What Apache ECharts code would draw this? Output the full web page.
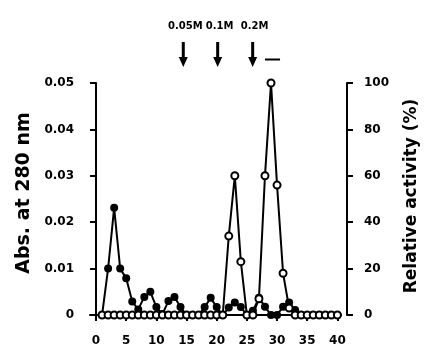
<!DOCTYPE html>
<html><head><meta charset="utf-8">
<script src="https://cdn.jsdelivr.net/npm/echarts@6/dist/echarts.min.js"></script>
<style>html,body{margin:0;padding:0;background:#fff}#c{width:439px;height:355px}</style>
</head><body><div id="c"></div>
<script>
const fractions = [1,2,3,4,5,6,7,8,9,10,11,12,13,14,15,16,17,18,19,20,21,22,23,24,25,26,27,28,29,30,31,32,33,34,35,36,37,38,39,40];
const absorbance = [0,0.0100,0.0231,0.0100,0.0079,0.0029,0.0012,0.0039,0.0050,0.0017,0.0002,0.0030,0.0039,0.0017,0,0,0,0.0017,0.0037,0.0017,0,0.0016,0.0027,0.0017,0,0.0009,0.0037,0.0018,0,0,0.0018,0.0027,0.0011,0,0,0,0,0,0,0];
const activity = [0,0,0,0,0,0,0,0,0,0,0,0,0,0,0,0,0,0,0,0,0,34,60,23,0,0,7,60,100,56,18,3,0,0,0,0,0,0,0,0];
const xTicks = [0,5,10,15,20,25,30,35,40];
const saltLabels = ['0.05M','0.1M','0.2M'];
const saltFractions = [14.46,20.16,25.96];
const barFractions = [28,30.5];

const FONT = 'DejaVu Sans';
const chart = echarts.init(document.getElementById('c'), null, {renderer:'canvas'});
const axisLine = {show:true, lineStyle:{color:'#000', width:2}};
const axisTick = {show:true, inside:false, length:6, lineStyle:{color:'#000', width:2}};
const labelStyle = {color:'#000', fontFamily:FONT, fontWeight:'bold', fontSize:12};

chart.setOption({
  animation:false,
  backgroundColor:'#fff',
  grid:{left:90, right:98, top:83, bottom:40},
  xAxis:{
    type:'value', min:-1, max:40.6,
    axisLine:axisLine,
    axisTick:Object.assign({customValues:xTicks}, axisTick),
    axisLabel:Object.assign({customValues:xTicks, margin:20}, labelStyle),
    splitLine:{show:false}
  },
  yAxis:[{
    type:'value', min:0, max:0.05, interval:0.01, position:'left', offset:4,
    name:'Abs. at 280 nm', nameLocation:'middle', nameRotate:90, nameGap:52,
    nameTextStyle:{color:'#000', fontFamily:FONT, fontWeight:'bold', fontSize:19, padding:[0,0,0,12]},
    axisLine:axisLine, axisTick:axisTick,
    axisLabel:Object.assign({margin:12}, labelStyle),
    splitLine:{show:false}
  },{
    type:'value', min:0, max:100, interval:20, position:'right', offset:6,
    name:'Relative activity (%)', nameLocation:'middle', nameRotate:90, nameGap:56,
    nameTextStyle:{color:'#000', fontFamily:FONT, fontWeight:'bold', fontSize:17, padding:[0,0,0,6]},
    axisLine:axisLine, axisTick:axisTick,
    axisLabel:Object.assign({margin:17}, labelStyle),
    splitLine:{show:false}
  }],
  series:[{
    type:'line', name:'Abs', yAxisIndex:0,
    data:fractions.map((f,i)=>[f,absorbance[i]]),
    symbol:'circle', symbolSize:8, showAllSymbol:true,
    lineStyle:{color:'#000', width:2},
    itemStyle:{color:'#000'},
    z:2
  },{
    type:'line', name:'Activity', yAxisIndex:1,
    data:fractions.map((f,i)=>[f,activity[i]]),
    symbol:'circle', symbolSize:7, showAllSymbol:true,
    lineStyle:{color:'#000', width:2},
    itemStyle:{color:'#fff', borderColor:'#000', borderWidth:2},
    z:3
  }]
});

const els = [];
saltFractions.forEach((f,i)=>{
  const x = chart.convertToPixel({xAxisIndex:0}, f);
  els.push({type:'text', x:x+2, y:26, style:{text:saltLabels[i], fill:'#000', font:'bold 10px "'+FONT+'"', align:'center', verticalAlign:'middle'}});
  els.push({type:'line', shape:{x1:x, y1:42, x2:x, y2:60}, style:{stroke:'#000', lineWidth:3}});
  els.push({type:'polygon', shape:{points:[[x-4.5,57],[x+4.5,57],[x,67]]}, style:{fill:'#000'}});
});
const bx1 = chart.convertToPixel({xAxisIndex:0}, barFractions[0]);
const bx2 = chart.convertToPixel({xAxisIndex:0}, barFractions[1]);
els.push({type:'line', shape:{x1:bx1, y1:59.5, x2:bx2, y2:59.5}, style:{stroke:'#000', lineWidth:2}});
chart.setOption({graphic:els});
</script>
</body></html>
